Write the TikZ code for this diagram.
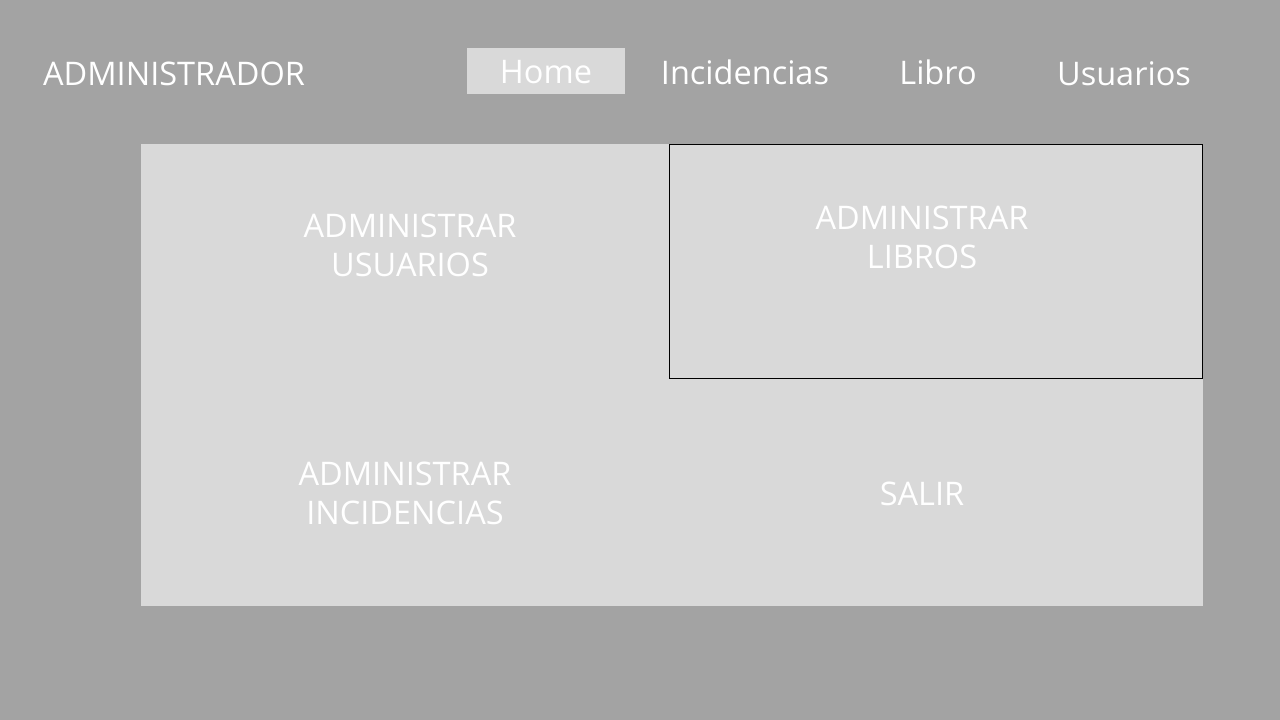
\documentclass[tikz,border=0pt]{standalone}
\usepackage{fontspec}
\setmainfont{Open Sans}
\definecolor{fondo}{HTML}{A3A3A3}
\definecolor{panel}{HTML}{D9D9D9}
\tikzset{
    navtext/.style={text=white, font=\fontsize{32.5}{38}\selectfont, inner sep=0pt},
    boxtext/.style={text=white, font=\fontsize{32.5}{39}\selectfont, align=center, inner sep=0pt}
}
\begin{document}
\begin{tikzpicture}[x=1pt, y=-1pt]
    % Background
    \fill[fondo] (0,0) rectangle (1280,720);
    \useasboundingbox (0,0) rectangle (1280,720);

    % Title
    \node[navtext] (titulo) at (174,74) {ADMINISTRADOR};

    % Menu bar
    \fill[panel] (467,48) rectangle (625,94);
    \foreach \x/\y/\name/\txt in {546/72/home/Home, 745/72/incid/Incidencias, 938/72/libro/Libro, 1124/74/usu/Usuarios} {
        \node[navtext] (nav\name) at (\x,\y) {\txt};
    }

    % Main panel
    \fill[panel] (141,144) rectangle (1203,606);
    \draw[black, line width=1pt] (669,144.5) rectangle (1202.5,378.5);

    % Panel options
    \node[boxtext] (usuarios) at (410,245.5) {ADMINISTRAR\\USUARIOS};
    \node[boxtext] (libros) at (922,237.5) {ADMINISTRAR\\LIBROS};
    \node[boxtext] (incidencias) at (405,493.5) {ADMINISTRAR\\INCIDENCIAS};
    \node[boxtext] (salir) at (922,494) {SALIR};
\end{tikzpicture}
\end{document}
